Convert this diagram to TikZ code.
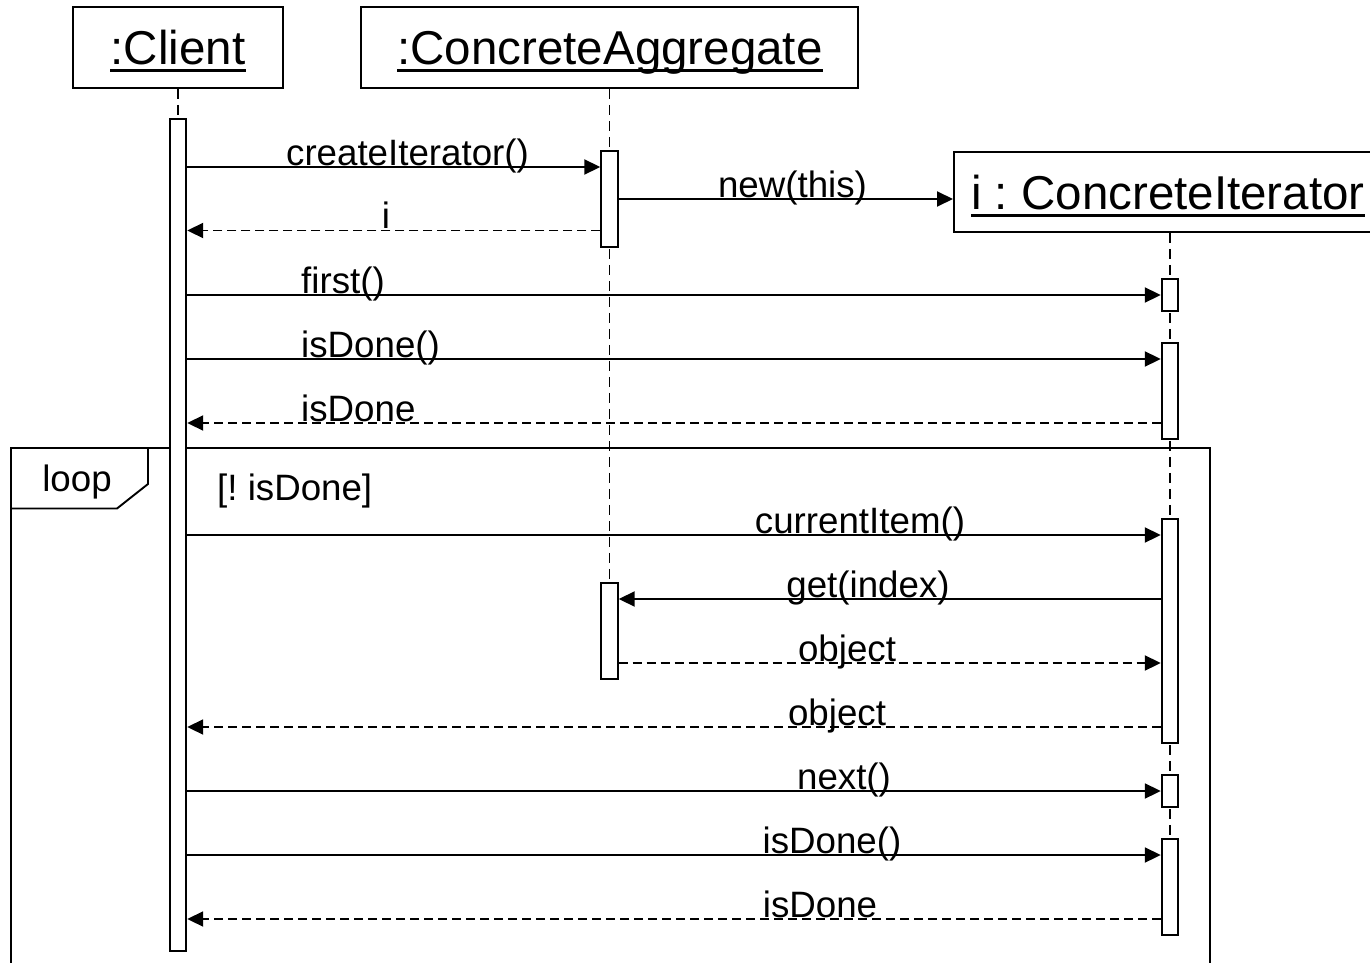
\documentclass[tikz,border=0pt]{standalone}
\usepackage{fontspec}
\setmainfont{Liberation Sans}
\usetikzlibrary{arrows.meta}
\frenchspacing
\begin{document}
\begin{tikzpicture}[x=1pt,y=-1pt,
  lw/.style={line width=1.9pt},
  objbox/.style={draw, lw, fill=white, inner sep=0pt},
  hdr/.style={inner sep=0pt, font=\fontsize{47.5}{52}\selectfont\frenchspacing, anchor=base},
  ulin/.style={line width=3pt},
  act/.style={draw, lw, fill=white, inner sep=0pt, minimum width=16.5pt},
  life/.style={line width=1.7pt, dash pattern=on 10pt off 6pt},
  msg/.style={lw, -{Triangle[length=16pt,width=15pt]}},
  ret/.style={msg, dash pattern=on 9pt off 5pt},
  lbl/.style={inner sep=0pt, font=\fontsize{36.7}{40}\selectfont\frenchspacing, anchor=base},
]
\useasboundingbox (0,0) rectangle (1370,963);
\clip (0,0) rectangle (1370,963);
\fill[white] (0,0) rectangle (1370,963);

% loop frame
\draw[lw] (11,980) -- (11,448) -- (1210,448) -- (1210,980);
\draw[lw] (11,508.5) -- (117,508.5) -- (148,484) -- (148,448);
\node[lbl] (loop) at (77,491) {loop};
\node[lbl, anchor=base west] (guard) at (217,500) {[! isDone]};

% objects
\node[objbox, minimum width=210pt, minimum height=81pt] (client) at (178,47.5) {};
\node[hdr] (clientT) at (178,65) {:Client};
\draw[ulin] ([yshift=-6pt]clientT.base west) -- ([yshift=-6pt]clientT.base east);

\node[objbox, minimum width=497pt, minimum height=81pt] (agg) at (609.5,47.5) {};
\node[hdr] (aggT) at (610,65) {:ConcreteAggregate};
\draw[ulin] ([yshift=-6pt]aggT.base west) -- ([yshift=-6pt]aggT.base east);

\node[objbox, minimum width=440pt, minimum height=80pt, anchor=north west] (iter) at (953,151) {};
\node[hdr, anchor=base west] (iterT) at (971,209) {i : ConcreteIterator};
\draw[ulin] ([yshift=-6.5pt]iterT.base west) -- ([yshift=-6.5pt]iterT.base east);

% activation bars (positions)
\path
  (178,535) node[act, minimum height=832pt] (ca) {}
  (609.5,199) node[act, minimum height=96pt] (a1) {}
  (609.5,631) node[act, minimum height=96pt] (a2) {}
  (1170,295) node[act, minimum height=32pt] (i1) {}
  (1170,391) node[act, minimum height=96pt] (i2) {}
  (1170,631) node[act, minimum height=224pt] (i3) {}
  (1170,791) node[act, minimum height=32pt] (i4) {}
  (1170,887) node[act, minimum height=96pt] (i5) {};

% lifelines
\draw[life] (client.south) -- (ca.north);
\draw[life] (agg.south) -- (a2.north);
\draw[life] (i1.north |- iter.south) -- (i5.north);

% message rows
\coordinate (y1) at (0,167);
\coordinate (y2) at (0,199);
\coordinate (y3) at (0,230.5);
\coordinate (y4) at (0,295);
\coordinate (y5) at (0,359);
\coordinate (y6) at (0,423);
\coordinate (y7) at (0,535);
\coordinate (y8) at (0,599);
\coordinate (y9) at (0,663);
\coordinate (y10) at (0,727);
\coordinate (y11) at (0,791);
\coordinate (y12) at (0,855);
\coordinate (y13) at (0,919);

\draw[msg] (ca.east |- y1) -- (a1.west |- y1);
\draw[msg] (a1.east |- y2) -- (iter.west |- y2);
\draw[ret] (a1.west |- y3) -- (ca.east |- y3);
\draw[msg] (ca.east |- y4) -- (i1.west |- y4);
\draw[msg] (ca.east |- y5) -- (i2.west |- y5);
\draw[ret] (i2.west |- y6) -- (ca.east |- y6);
\draw[msg] (ca.east |- y7) -- (i3.west |- y7);
\draw[msg] (i3.west |- y8) -- (a2.east |- y8);
\draw[ret] (a2.east |- y9) -- (i3.west |- y9);
\draw[ret] (i3.west |- y10) -- (ca.east |- y10);
\draw[msg] (ca.east |- y11) -- (i4.west |- y11);
\draw[msg] (ca.east |- y12) -- (i5.west |- y12);
\draw[ret] (i5.west |- y13) -- (ca.east |- y13);

% redraw activation bars on top
\path
  (178,535) node[act, minimum height=832pt] {}
  (609.5,199) node[act, minimum height=96pt] {}
  (609.5,631) node[act, minimum height=96pt] {}
  (1170,295) node[act, minimum height=32pt] {}
  (1170,391) node[act, minimum height=96pt] {}
  (1170,631) node[act, minimum height=224pt] {}
  (1170,791) node[act, minimum height=32pt] {}
  (1170,887) node[act, minimum height=96pt] {};

% labels
\node[lbl] (l1) at (407.5,165) {createIterator()};
\node[lbl] (l2) at (792.5,197) {new(this)};
\node[lbl] (l3) at (386,228) {i};
\node[lbl, anchor=base west] (l4) at (301,293) {first()};
\node[lbl, anchor=base west] (l5) at (301,357) {isDone()};
\node[lbl, anchor=base west] (l6) at (301,421) {isDone};
\node[lbl] (l7) at (860,533) {currentItem()};
\node[lbl] (l8) at (868,597) {get(index)};
\node[lbl] (l9) at (847,661) {object};
\node[lbl] (l10) at (837,725) {object};
\node[lbl] (l11) at (844,789) {next()};
\node[lbl] (l12) at (832,853) {isDone()};
\node[lbl] (l13) at (820,917) {isDone};
\end{tikzpicture}
\end{document}
